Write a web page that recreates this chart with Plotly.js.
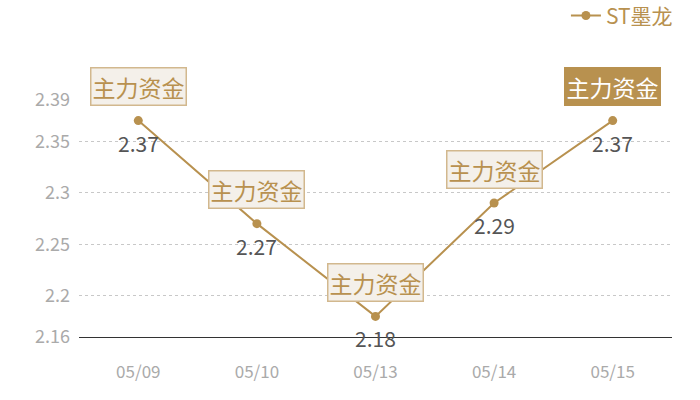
<!DOCTYPE html>
<html>
<head>
<meta charset="utf-8">
<script src="https://cdn.plot.ly/plotly-3.0.1.min.js"></script>
<style>
  html, body { margin: 0; padding: 0; background: #fff; }
  #chart { width: 700px; height: 400px; }
</style>
</head>
<body>
<div id="chart"></div>
<script>
// 数据
const dates = ['05/09', '05/10', '05/13', '05/14', '05/15'];
const prices = [2.37, 2.27, 2.18, 2.29, 2.37];
const seriesName = 'ST墨龙';
const tagText = '主力资金';
const yTicks = [2.16, 2.2, 2.25, 2.3, 2.35, 2.39];
const yTickText = ['2.16', '2.2', '2.25', '2.3', '2.35', '2.39'];

const gold = '#b8914f';
const font = 'Noto Sans CJK SC, Noto Sans, sans-serif';

const trace = {
    type: 'scatter',
    mode: 'lines+markers',
    name: seriesName,
    x: dates,
    y: prices,
    line: { color: gold, width: 2 },
    marker: { color: gold, size: 9 },
    cliponaxis: false,
    hoverinfo: 'x+y'
};

// 数值标签（点下方）
const valueLabels = dates.map((d, i) => ({
    x: d,
    y: prices[i],
    text: prices[i].toFixed(2),
    showarrow: false,
    yshift: -22,
    font: { family: font, size: 21, color: '#555' }
}));

// 主力资金 标签（点上方），最后一个为实心
const tags = dates.map((d, i) => {
    const last = i === dates.length - 1;
    return {
        x: d,
        y: prices[i],
        text: tagText,
        showarrow: false,
        yshift: 34,
        bgcolor: last ? gold : '#f4f0ea',
        bordercolor: last ? gold : '#d2b88e',
        borderwidth: 1.5,
        borderpad: 1,
        font: { family: font, size: 23, color: last ? '#fff' : gold }
    };
});

const layout = {
    width: 700,
    height: 400,
    margin: { l: 79, r: 28, t: 100, b: 63, autoexpand: false },
    paper_bgcolor: '#fff',
    plot_bgcolor: '#fff',
    font: { family: font },
    showlegend: true,
    legend: {
        x: 1.01, xanchor: 'right',
        y: 1.355, yanchor: 'middle',
        font: { family: font, size: 21, color: gold },
        bgcolor: 'rgba(0,0,0,0)'
    },
    xaxis: {
        type: 'category',
        range: [-0.5, 4.5],
        showgrid: false,
        showline: true,
        linecolor: '#333',
        linewidth: 1,
        ticks: '',
        tickfont: { family: font, size: 17, color: '#aaa' },
        ticklabelstandoff: 20,
        fixedrange: true
    },
    yaxis: {
        range: [2.16, 2.39],
        tickmode: 'array',
        tickvals: yTicks,
        ticktext: yTickText,
        showgrid: true,
        gridcolor: '#c8c8c8',
        griddash: 'dot',
        gridwidth: 1,
        zeroline: false,
        showline: false,
        ticks: '',
        tickfont: { family: font, size: 18, color: '#aaa' },
        ticklabelstandoff: 8,
        fixedrange: true
    },
    annotations: valueLabels.concat(tags)
};

Plotly.newPlot('chart', [trace], layout, { displayModeBar: false, staticPlot: true });
</script>
</body>
</html>
